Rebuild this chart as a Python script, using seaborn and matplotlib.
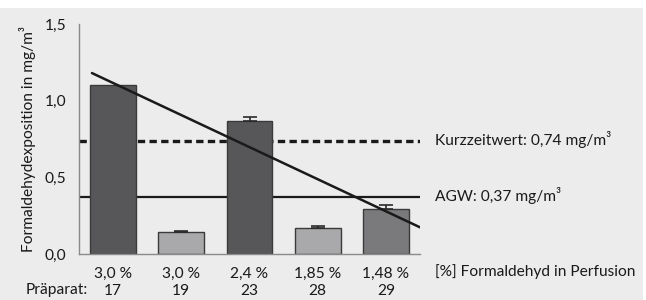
import seaborn as sns
import pandas as pd
import matplotlib.pyplot as plt
from matplotlib.patches import Rectangle

# values
konz = ["3,0 %", "3,0 %", "2,4 %", "1,85 %", "1,48 %"]
praeparat = ["17", "19", "23", "28", "29"]
exposition = [1.10, 0.145, 0.87, 0.168, 0.296]
fehler = [0.0, 0.008, 0.026, 0.012, 0.024]
farben = ["#575759", "#a9a9ab", "#575759", "#a9a9ab", "#7a7a7c"]
kurzzeitwert = 0.74
agw = 0.37
trend_x = [-0.31, 4.5]
trend_y = [1.18, 0.174]

sns.set_style("white")
plt.rcParams["font.family"] = ["Lato", "DejaVu Sans"]
bg = "#ececec"
fs = 11.2
tc = "#1a1a1a"

df = pd.DataFrame({"label": [k + "\n" + p for k, p in zip(konz, praeparat)],
                   "wert": exposition})

fig = plt.figure(figsize=(6.46, 3.0), dpi=100, facecolor="white")
fig.patches.append(Rectangle((0, 0), 643 / 646, 292 / 300, transform=fig.transFigure,
                             facecolor=bg, edgecolor="none", zorder=-5))
ax = fig.add_axes([79 / 646, 46 / 300, 341 / 646, 230 / 300])
ax.set_facecolor(bg)

sns.barplot(data=df, x="label", y="wert", hue="label", palette=farben, legend=False,
            width=0.67, edgecolor="#3a3a3a", linewidth=1.0, ax=ax, zorder=2)
ax.errorbar(range(1, len(exposition)), exposition[1:], yerr=[[0] * 4, fehler[1:]],
            fmt="none", ecolor="#2a2a2a", elinewidth=1.2, capsize=5, capthick=1.2, zorder=3)

ax.axhline(kurzzeitwert, color="#1a1a1a", lw=2.4, ls=(0, (2.2, 1.3)), zorder=1)
ax.axhline(agw, color="#1a1a1a", lw=1.6, zorder=1)
ax.plot(trend_x, trend_y, color="#1a1a1a", lw=1.8, zorder=4)

ax.set_xlim(-0.5, 4.5)
ax.set_ylim(0, 1.5)
ax.set_yticks([0, 0.5, 1.0, 1.5])
ax.set_yticklabels(["0,0", "0,5", "1,0", "1,5"])
ax.set_xlabel("")
ax.set_ylabel("")
for s in ["top", "right"]:
    ax.spines[s].set_visible(False)
for s in ["left", "bottom"]:
    ax.spines[s].set_color("#8a8a8a")
    ax.spines[s].set_linewidth(1.0)
ax.tick_params(axis="y", length=2, width=1, color="#8a8a8a", pad=7, labelsize=fs,
               labelcolor=tc)
ax.tick_params(axis="x", length=3, width=1, color="#8a8a8a", pad=6, labelsize=fs,
               labelcolor=tc)
for t in ax.get_xticklabels():
    t.set_linespacing(1.35)

ax.text(-0.15, 0.5, "Formaldehydexposition in mg/m³", transform=ax.transAxes,
        rotation=90, ha="center", va="center", fontsize=fs, color=tc)

fig.text(435 / 646, 1 - 140 / 300, "Kurzzeitwert: 0,74 mg/m³", ha="left", va="center",
         fontsize=fs, color=tc)
fig.text(435 / 646, 1 - 196 / 300, "AGW: 0,37 mg/m³", ha="left", va="center",
         fontsize=fs, color=tc)
fig.text(435 / 646, 1 - 272 / 300, "[%] Formaldehyd in Perfusion", ha="left", va="center",
         fontsize=fs, color=tc)
fig.text(26 / 646, 1 - 290 / 300, "Präparat:", ha="left", va="center",
         fontsize=fs, color=tc)

fig.savefig("out.png", dpi=100, facecolor="white")
